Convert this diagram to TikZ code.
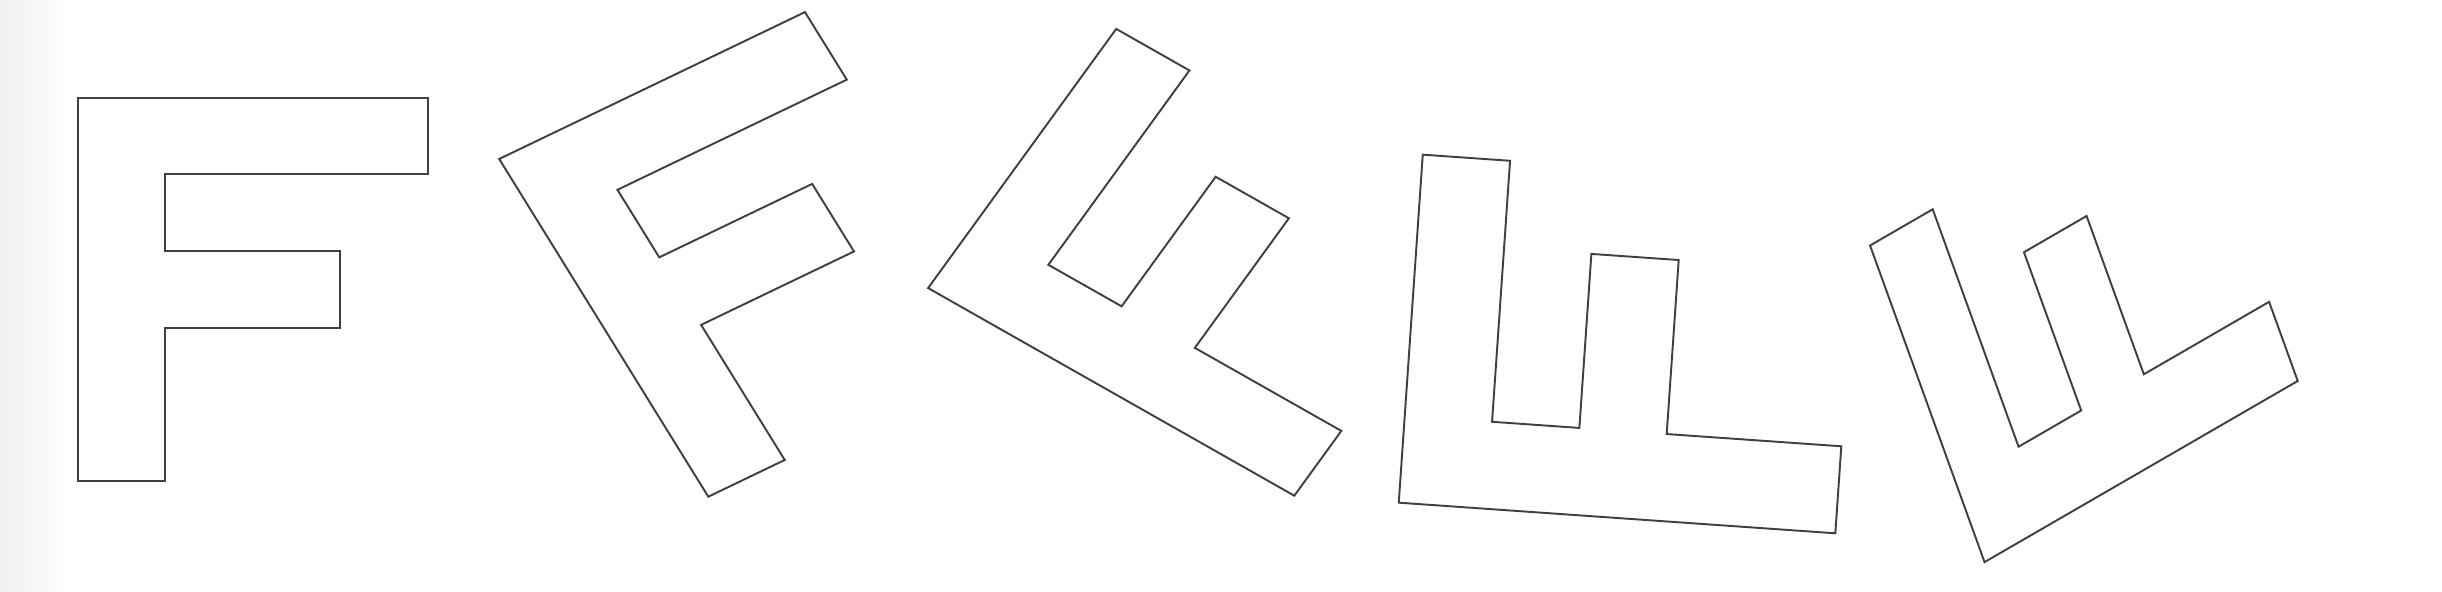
\documentclass[tikz,border=0pt]{standalone}
\usepackage{tikz}

\tikzset{
  outline/.style={draw=black!75, line width=0.55pt, line join=miter},
}
% the letter F on a 4 x 5 grid
\newcommand{\Fpath}{(0,0) -- (1,0) -- (1,2) -- (3,2) -- (3,3) -- (1,3) -- (1,4) -- (4,4) -- (4,5) -- (0,5) -- cycle}

\begin{document}
\begin{tikzpicture}[x=0.01cm, y=-0.01cm]
    \useasboundingbox (0,0) rectangle (2442,592);
    \shade[left color=black!6, right color=white] (0,0) rectangle (70,592);

    % Upright F
    \begin{scope}[shift={(77.7,481.3)}, x={(0.875cm,0cm)}, y={(0cm,0.767cm)}]
        \draw[outline] \Fpath;
    \end{scope}

    % Tilted copies
    \begin{scope}[shift={(708.3,496.7)}, x={(0.764cm,0.367cm)}, y={(-0.418cm,0.675cm)}]
        \draw[outline] \Fpath;
    \end{scope}
    \begin{scope}[shift={(1294.3,495.7)}, x={(0.47cm,0.6475cm)}, y={(-0.732cm,0.415cm)}]
        \draw[outline] \Fpath;
    \end{scope}
    \begin{scope}[shift={(1835.3,533.3)}, x={(0.06cm,0.8695cm)}, y={(-0.8726cm,0.0612cm)}]
        \draw[outline] \Fpath;
    \end{scope}
    \begin{scope}[shift={(2297.7,381)}, x={(-0.286cm,0.791cm)}, y={(-0.626cm,-0.362cm)}]
        \draw[outline] \Fpath;
    \end{scope}
\end{tikzpicture}
\end{document}
